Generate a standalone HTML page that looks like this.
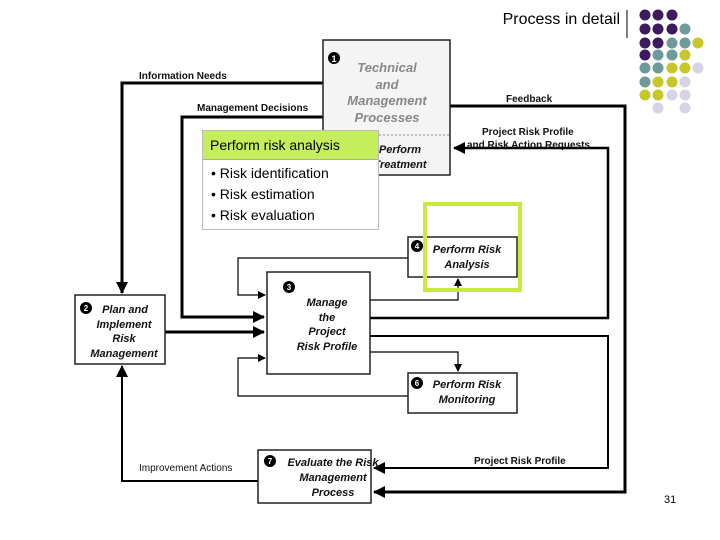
<!DOCTYPE html><html><head><style>body{margin:0;width:720px;height:540px;background:#fff;position:relative;overflow:hidden;font-family:"Liberation Sans",sans-serif}
.t{position:absolute;font-family:"Liberation Sans",sans-serif}
</style></head><body>
<svg width="720" height="540" style="position:absolute;left:0;top:0" font-family="Liberation Sans, sans-serif">
<defs><marker id="a" markerWidth="8" markerHeight="8" refX="7" refY="4" orient="auto" markerUnits="userSpaceOnUse"><path d="M0,0L8,4L0,8z" fill="#000"/></marker>
<marker id="b" markerWidth="12" markerHeight="12" refX="11" refY="6" orient="auto" markerUnits="userSpaceOnUse"><path d="M0,0L12,6L0,12z" fill="#000"/></marker></defs>
<g fill="none" stroke="#000">
<polyline points="323,83 122,83 122,293" stroke-width="3" marker-end="url(#b)"/>
<polyline points="323,117 182,117 182,317 264,317" stroke-width="3" marker-end="url(#b)"/>
<polyline points="165,332 264,332" stroke-width="3" marker-end="url(#b)"/>
<polyline points="450,106 625,106 625,492 374,492" stroke-width="3" marker-end="url(#b)"/>
<polyline points="370,318 608,318 608,148 454,148" stroke-width="2.5" marker-end="url(#b)"/>
<polyline points="370,336 608,336 608,468 374,468" stroke-width="2" marker-end="url(#b)"/>
<polyline points="370,300 458,300 458,279" stroke-width="1.2" marker-end="url(#a)"/>
<polyline points="408,258 238,258 238,295 265,295" stroke-width="1.2" marker-end="url(#a)"/>
<polyline points="370,352 458,352 458,371" stroke-width="1.2" marker-end="url(#a)"/>
<polyline points="408,396 238,396 238,358 265,358" stroke-width="1.2" marker-end="url(#a)"/>
<polyline points="258,481 122,481 122,366" stroke-width="2" marker-end="url(#b)"/>
</g>
<rect x="323" y="40" width="127" height="135" fill="#f4f4f4" stroke="#222" stroke-width="1.5"/>
<line x1="323" y1="135" x2="450" y2="135" stroke="#888" stroke-dasharray="2,2"/>
<circle cx="334" cy="58" r="6" fill="#000"/><text x="334" y="62" font-size="9" fill="#fff" text-anchor="middle" font-weight="bold">1</text>
<g font-weight="bold" font-style="italic" font-size="13" fill="#888" text-anchor="middle"><text x="387" y="72">Technical</text><text x="387" y="89">and</text><text x="387" y="105">Management</text><text x="387" y="122">Processes</text></g>
<g font-weight="bold" font-style="italic" font-size="11" fill="#111" text-anchor="middle"><text x="400" y="153">Perform</text><text x="400" y="168">Treatment</text></g>
<rect x="75" y="295" width="90" height="69" fill="#fff" stroke="#222" stroke-width="1.5"/>
<rect x="267" y="272" width="103" height="102" fill="#fff" stroke="#222" stroke-width="1.5"/>
<rect x="408" y="237" width="109" height="40" fill="#fff" stroke="#222" stroke-width="1.5"/>
<rect x="408" y="373" width="109" height="40" fill="#fff" stroke="#222" stroke-width="1.5"/>
<rect x="258" y="450" width="113" height="53" fill="#fff" stroke="#222" stroke-width="1.5"/>
<rect x="425" y="204" width="95" height="86" fill="none" stroke="#c8ea3c" stroke-width="4"/>
<g fill="#000"><circle cx="86" cy="308" r="6"/><circle cx="289" cy="287" r="6"/><circle cx="417" cy="246" r="6"/><circle cx="417" cy="383" r="6"/><circle cx="270" cy="461" r="6"/></g>
<g font-size="8" fill="#fff" text-anchor="middle" font-weight="bold"><text x="86" y="311">2</text><text x="289" y="290">3</text><text x="417" y="249">4</text><text x="417" y="386">6</text><text x="270" y="464">7</text></g>
<g font-weight="bold" font-style="italic" font-size="11" fill="#111" text-anchor="middle">
<text x="125" y="313">Plan and</text><text x="124" y="328">Implement</text><text x="124" y="342">Risk</text><text x="124" y="357">Management</text>
<text x="327" y="306">Manage</text><text x="327" y="321">the</text><text x="327" y="335">Project</text><text x="327" y="350">Risk Profile</text>
<text x="467" y="253">Perform Risk</text><text x="467" y="268">Analysis</text>
<text x="467" y="388">Perform Risk</text><text x="467" y="403">Monitoring</text>
<text x="333" y="466">Evaluate the Risk</text><text x="333" y="481">Management</text><text x="333" y="496">Process</text></g>
<g font-weight="bold" font-size="10" fill="#111">
<text x="139" y="79">Information Needs</text><text x="197" y="111">Management Decisions</text><text x="506" y="102">Feedback</text>
<text x="482" y="135">Project Risk Profile</text><text x="467" y="148">and Risk Action Requests</text>
<text x="474" y="464">Project Risk Profile</text></g>
<text x="139" y="471" font-size="10" fill="#111">Improvement Actions</text>
<line x1="627" y1="10" x2="627" y2="38" stroke="#000" stroke-width="1"/>
<g id="dots"></g>
</svg>
<div style="position:absolute;left:202px;top:130px;width:175px;height:98px;background:#fff;border:1px solid #bbb">
<div style="background:#c4ee5c;height:28px;border-bottom:1px solid #aaa;font-size:14px;line-height:28px;padding-left:7px">Perform risk analysis</div>
<div style="font-size:14px;line-height:21px;padding:3px 0 0 8px">• Risk identification<br>• Risk estimation<br>• Risk evaluation</div></div>
<div class="t" style="right:100px;top:11px;font-size:16px">Process in detail</div>
<div class="t" style="left:664px;top:494px;font-size:11px">31</div>
<script>
var P="#3d1a5e",T="#6e9a9a",Y="#c8c72a",L="#d4d4e4";
var rows=[[P,P,P],[P,P,P,T],[P,P,T,T,Y],[P,T,T,Y],[T,T,Y,Y,L],[T,Y,Y,L],[Y,Y,L,L],[0,L,0,L]];
var xs=[645,658,672,685,698],ys=[15,29,43,55,68,82,95,108],s="";
rows.forEach(function(r,i){r.forEach(function(c,j){if(c)s+='<circle cx="'+xs[j]+'" cy="'+ys[i]+'" r="5.5" fill="'+c+'"/>';});});
document.getElementById("dots").innerHTML=s;
</script>
</body></html>
